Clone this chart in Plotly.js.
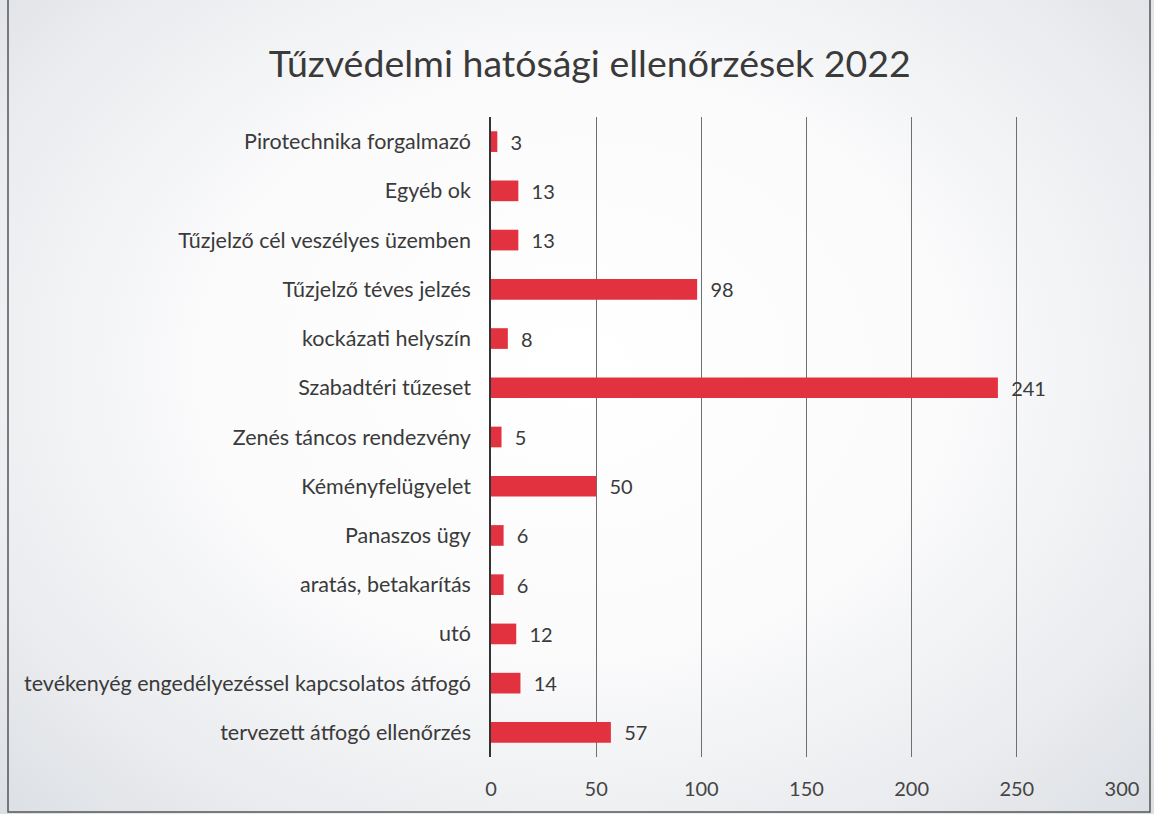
<!DOCTYPE html>
<html>
<head>
<meta charset="utf-8">
<script src="https://cdn.plot.ly/plotly-3.0.1.min.js"></script>
<style>
  html, body { margin: 0; padding: 0; }
  body { width: 1154px; height: 814px; background: radial-gradient(ellipse at 50% 45%, #ffffff 0%, #fbfbfc 45%, #e9ebee 80%, #dcdfe4 100%); }
  #chart { width: 1154px; height: 814px; }
</style>
</head>
<body>
<div id="chart"></div>
<script>
const categories = [
  "Pirotechnika forgalmazó",
  "Egyéb ok",
  "Tűzjelző cél veszélyes üzemben",
  "Tűzjelző téves jelzés",
  "kockázati helyszín",
  "Szabadtéri tűzeset",
  "Zenés táncos rendezvény",
  "Kéményfelügyelet",
  "Panaszos ügy",
  "aratás, betakarítás",
  "utó",
  "tevékenyég engedélyezéssel kapcsolatos átfogó",
  "tervezett átfogó ellenőrzés"
];
const values = [3, 13, 13, 98, 8, 241, 5, 50, 6, 6, 12, 14, 57];
const xTicks = [0, 50, 100, 150, 200, 250, 300];
const titleText = "Tűzvédelmi hatósági ellenőrzések 2022";

const FONT = "Lato, 'Open Sans', sans-serif";

Plotly.newPlot("chart", [{
  type: "bar",
  orientation: "h",
  y: categories,
  x: values,
  marker: { color: "#e2323f", line: { width: 0 } },
  text: values.map(String),
  texttemplate: "  %{text}",
  textposition: "outside",
  constraintext: "none",
  cliponaxis: false,
  textfont: { family: FONT, size: 20, color: "#3a3a3a" },
  hoverinfo: "x+y"
}], {
  width: 1154,
  height: 814,
  paper_bgcolor: "rgba(0,0,0,0)",
  plot_bgcolor: "rgba(0,0,0,0)",
  margin: { l: 491, r: 32, t: 117, b: 57 },
  bargap: 0.58,
  showlegend: false,
  title: {
    text: titleText,
    font: { family: FONT, size: 37.5, color: "#3a3a3a" },
    x: 0.511, xanchor: "center",
    y: 0.922, yanchor: "middle"
  },
  xaxis: {
    range: [0, 300],
    tickvals: xTicks,
    ticktext: xTicks.map(String),
    showgrid: true,
    gridcolor: "#6f6f6f",
    gridwidth: 1,
    zeroline: false,
    showline: false,
    ticks: "",
    ticklabelstandoff: 18,
    tickfont: { family: FONT, size: 20, color: "#444" },
    fixedrange: true
  },
  yaxis: {
    autorange: "reversed",
    type: "category",
    showgrid: false,
    zeroline: false,
    showline: true,
    linecolor: "#333",
    linewidth: 1.5,
    ticks: "",
    ticklabelstandoff: 14,
    tickfont: { family: FONT, size: 21.5, color: "#3a3a3a" }
  },
  shapes: [{
    type: "rect", xref: "paper", yref: "paper",
    x0: -483/631, x1: 1 + 28/631, y0: -55/640, y1: 1.3,
    line: { color: "#555", width: 1.5 }, fillcolor: "rgba(0,0,0,0)", layer: "below"
  }]
}, { displayModeBar: false });
</script>
</body>
</html>
